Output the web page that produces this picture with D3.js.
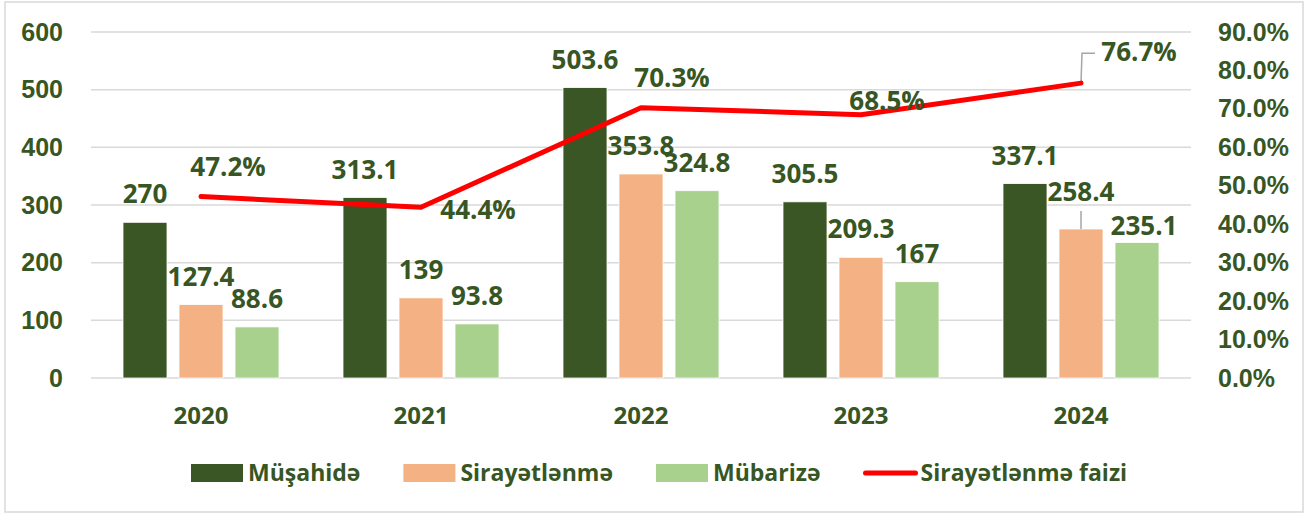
<!DOCTYPE html>
<html>
<head>
<meta charset="utf-8">
<script src="https://cdn.jsdelivr.net/npm/d3@7"></script>
<style>
  body { margin: 0; background: #fff; }
  svg { display: block; font-family: "Open Sans", "DejaVu Sans", sans-serif; font-weight: 700; }
</style>
</head>
<body>
<svg id="chart" width="1307" height="514"></svg>
<script>
// data
const years = ["2020", "2021", "2022", "2023", "2024"];
const musahide = [270, 313.1, 503.6, 305.5, 337.1];
const sirayetlenme = [127.4, 139, 353.8, 209.3, 258.4];
const mubarize = [88.6, 93.8, 324.8, 167, 235.1];
const faiz = [47.2, 44.4, 70.3, 68.5, 76.7];
const leftTicks = [0, 100, 200, 300, 400, 500, 600];
const rightTicks = [0, 10, 20, 30, 40, 50, 60, 70, 80, 90];

const seriesNames = ["Müşahidə", "Sirayətlənmə", "Mübarizə"];
const seriesColors = ["#3a5624", "#f4b183", "#a9d18e"];
const lineName = "Sirayətlənmə faizi";
const textColor = "#375623";

// label placement tweaks (like excel moved them by hand)
const pctOffset = [[27, -30], [57, 3], [31, -30], [26, -14], [58, -31]];

const svg = d3.select("#chart");

// outer border
svg.append("rect")
  .attr("x", 5).attr("y", 2)
  .attr("width", 1298).attr("height", 510)
  .attr("fill", "none")
  .attr("stroke", "#d9d9d9")
  .attr("stroke-width", 1.5);

const x = d3.scaleBand().domain(years).range([91, 1191]);
const xs = d3.scaleBand().domain(seriesNames).range([32, 188]).paddingInner(0.2143);
const y = d3.scaleLinear().domain([0, 600]).range([378, 32]);
const y2 = d3.scaleLinear().domain([0, 90]).range([378, 32]);

// gridlines
svg.append("g")
  .selectAll("line")
  .data(leftTicks)
  .join("line")
  .attr("x1", 91).attr("x2", 1191)
  .attr("y1", d => y(d)).attr("y2", d => y(d))
  .attr("stroke", "#d9d9d9")
  .attr("stroke-width", 1.5);

// left axis
const yAxis = svg.append("g")
  .attr("transform", "translate(63,0)")
  .call(d3.axisLeft(y).tickValues(leftTicks).tickSize(0).tickPadding(0));
yAxis.select(".domain").remove();
yAxis.selectAll("text")
  .attr("fill", textColor)
  .style("font-size", "25px")
  .style("font-family", "inherit");

// right axis
const y2Axis = svg.append("g")
  .attr("transform", "translate(1218,0)")
  .call(d3.axisRight(y2).tickValues(rightTicks).tickSize(0).tickPadding(0)
    .tickFormat(d => d.toFixed(1) + "%"));
y2Axis.select(".domain").remove();
y2Axis.selectAll("text")
  .attr("fill", textColor)
  .style("font-size", "25px")
  .style("font-family", "inherit");

// category labels
svg.append("g")
  .selectAll("text")
  .data(years)
  .join("text")
  .attr("x", d => x(d) + x.bandwidth() / 2)
  .attr("y", 416)
  .attr("dy", "0.35em")
  .attr("text-anchor", "middle")
  .attr("fill", textColor)
  .style("font-size", "24px")
  .text(d => d);

// bars
const allSeries = [musahide, sirayetlenme, mubarize];
const barData = [];
years.forEach((yr, i) => {
  allSeries.forEach((s, j) => {
    barData.push({ year: yr, name: seriesNames[j], value: s[i], j: j, i: i });
  });
});

svg.append("g")
  .selectAll("rect")
  .data(barData)
  .join("rect")
  .attr("x", d => x(d.year) + xs(d.name))
  .attr("y", d => y(d.value))
  .attr("width", xs.bandwidth())
  .attr("height", d => y(0) - y(d.value))
  .attr("fill", d => seriesColors[d.j])
  .attr("stroke", "#ffffff")
  .attr("stroke-width", 0.8);

// bar labels
function barLabelPos(d) {
  let cx = x(d.year) + xs(d.name) + xs.bandwidth() / 2;
  let cy = y(d.value) - 28;
  if (d.year === "2024" && d.j === 1) cy = y(d.value) - 37;
  if (d.year === "2024" && d.j === 2) { cx += 7; cy = y(d.value) - 17; }
  return [cx, cy];
}

// leader line for 258.4
const lead = barData.find(d => d.year === "2024" && d.j === 1);
svg.append("line")
  .attr("x1", x(lead.year) + xs(lead.name) + xs.bandwidth() / 2)
  .attr("x2", x(lead.year) + xs(lead.name) + xs.bandwidth() / 2)
  .attr("y1", y(lead.value) - 18)
  .attr("y2", y(lead.value))
  .attr("stroke", "#a6a6a6")
  .attr("stroke-width", 1.5);

svg.append("g")
  .selectAll("text")
  .data(barData)
  .join("text")
  .attr("x", d => barLabelPos(d)[0])
  .attr("y", d => barLabelPos(d)[1])
  .attr("dy", "0.35em")
  .attr("text-anchor", "middle")
  .attr("fill", textColor)
  .style("font-size", "26px")
  .text(d => d.value);

// line
const pts = faiz.map((v, i) => [x(years[i]) + x.bandwidth() / 2, y2(v)]);

// leader line for last percentage
const last = pts[pts.length - 1];
svg.append("path")
  .attr("d", `M${last[0]},${last[1]} L${last[0] + 1},${last[1] - 30} L${last[0] + 14},${last[1] - 30}`)
  .attr("fill", "none")
  .attr("stroke", "#a6a6a6")
  .attr("stroke-width", 1.5);

svg.append("path")
  .datum(pts)
  .attr("d", d3.line())
  .attr("fill", "none")
  .attr("stroke", "#ff0000")
  .attr("stroke-width", 5)
  .attr("stroke-linecap", "round")
  .attr("stroke-linejoin", "round");

svg.append("g")
  .selectAll("text")
  .data(faiz)
  .join("text")
  .attr("x", (d, i) => pts[i][0] + pctOffset[i][0])
  .attr("y", (d, i) => pts[i][1] + pctOffset[i][1])
  .attr("dy", "0.35em")
  .attr("text-anchor", "middle")
  .attr("fill", textColor)
  .style("font-size", "26px")
  .text(d => d.toFixed(1) + "%");

// legend
const legend = svg.append("g").attr("transform", "translate(0,473)");
let lx = 191;
const items = seriesNames.map((n, j) => ({ name: n, color: seriesColors[j], type: "box" }))
  .concat([{ name: lineName, color: "#ff0000", type: "line" }]);

items.forEach(it => {
  if (it.type === "box") {
    legend.append("rect")
      .attr("x", lx).attr("y", -9)
      .attr("width", 52).attr("height", 18)
      .attr("fill", it.color);
  } else {
    legend.append("line")
      .attr("x1", lx + 2).attr("x2", lx + 52)
      .attr("y1", 0).attr("y2", 0)
      .attr("stroke", it.color)
      .attr("stroke-width", 5)
      .attr("stroke-linecap", "round");
  }
  const t = legend.append("text")
    .attr("x", lx + 57)
    .attr("y", 0)
    .attr("dy", "0.35em")
    .attr("fill", textColor)
    .style("font-size", "23px")
    .text(it.name);
  lx += 57 + t.node().getComputedTextLength() + 43;
});
</script>
</body>
</html>
